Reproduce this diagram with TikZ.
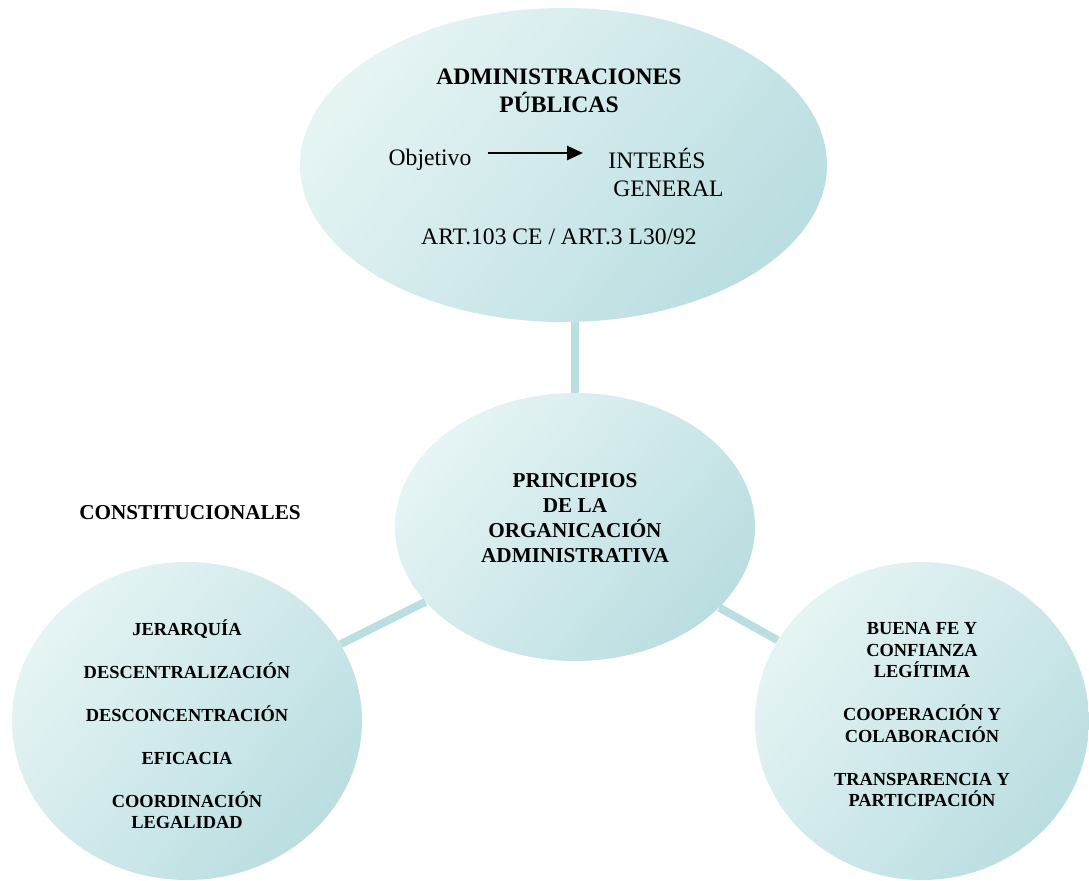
\documentclass[tikz,border=0pt]{standalone}
\usepackage{fontspec}
\setmainfont{Liberation Serif}
\usetikzlibrary{shapes.geometric,arrows.meta}
\definecolor{paleaqua}{RGB}{230,244,244}
\definecolor{deepaqua}{RGB}{186,222,225}
\definecolor{linkaqua}{RGB}{187,223,225}
\begin{document}
\begin{tikzpicture}[x=0.5pt,y=-0.5pt,
  bubble/.style={ellipse,top color=paleaqua,bottom color=deepaqua,shading angle=50,inner sep=0pt},
  link/.style={draw=linkaqua,line width=4pt},
  big/.style={font=\fontsize{11.8}{14}\selectfont,align=center,inner sep=0pt},
  mid/.style={font=\fontsize{10.6}{12.5}\selectfont\bfseries,align=center,inner sep=0pt},
  small/.style={font=\fontsize{9.2}{10.75}\selectfont\bfseries,align=center,inner sep=0pt}]
\useasboundingbox[fill=white] (0,0) rectangle (1089,881);
% the four bubbles
\node[bubble,minimum width=263.5pt,minimum height=157pt] (admin) at (563.5,165) {};
\node[bubble,minimum width=180pt,minimum height=134pt] (princ) at (575,527) {};
\node[bubble,minimum width=175pt,minimum height=159pt] (const) at (187,721) {};
\node[bubble,minimum width=167pt,minimum height=159pt] (legal) at (922,721) {};
\draw[link] (princ) -- (princ.north |- admin.south);
\draw[link] (princ) -- (const);
\draw[link] (princ) -- (legal);
% texts
\node[big,font=\fontsize{11.8}{14}\selectfont\bfseries] (titulo) at (559,91) {ADMINISTRACIONES\\PÚBLICAS};
\node[big] (objetivo) at (430,160) {Objetivo};
\node[big,align=left,anchor=west] (interes) at (608,172) {INTERÉS\\\hspace{2.5pt}GENERAL};
\draw[-{Triangle[length=8pt,width=7pt]},line width=1.3pt] ([xshift=8pt,yshift=3.5pt]objetivo.east) -- ([xshift=-12.5pt,yshift=3.5pt]objetivo.east -| interes.west);
\node[big] (art) at (559,237) {ART.103 CE / ART.3 L30/92};
\node[mid] (principios) at (575,518) {PRINCIPIOS\\DE LA\\ORGANICACIÓN\\ADMINISTRATIVA};
\node[mid] (constit) at (190,513) {CONSTITUCIONALES};
\node[small] (lista1) at (187,724) {JERARQUÍA\\[10.75pt]DESCENTRALIZACIÓN\\[10.75pt]DESCONCENTRACIÓN\\[10.75pt]EFICACIA\\[10.75pt]COORDINACIÓN\\LEGALIDAD};
\node[small] (lista2) at (922,715) {BUENA FE Y\\CONFIANZA\\LEGÍTIMA\\[10.75pt]COOPERACIÓN Y\\COLABORACIÓN\\[10.75pt]TRANSPARENCIA Y\\PARTICIPACIÓN};
\end{tikzpicture}
\end{document}
